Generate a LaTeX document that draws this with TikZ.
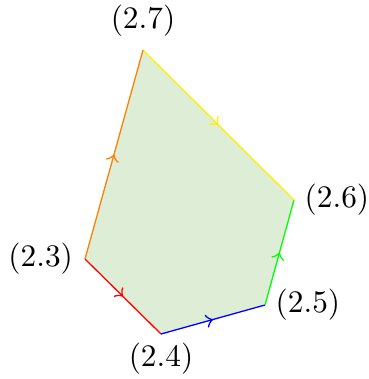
\documentclass[tikz,border=0pt]{standalone}
\usepackage{tikz}
\usetikzlibrary{positioning, decorations.markings}
\definecolor{facefill}{RGB}{221,237,214}

\begin{document}
\begin{tikzpicture}[
  x=0.348pt, y=-0.348pt, line width=0.45pt,
  edge/.style={postaction={decorate}, decoration={markings, mark=at position 0.5 with {\arrow[scale=1.25]{>}}}},
  vlabel/.style={inner sep=3pt, font=\fontsize{10.9}{13}\selectfont}
]
\useasboundingbox (0,0) rectangle (368,379);

% vertices
\coordinate (v3) at (85,259);
\coordinate (v4) at (161,334);
\coordinate (v5) at (265,305);
\coordinate (v6) at (294,200);
\coordinate (v7) at (143,50);

% face
\fill[facefill] (v3) -- (v4) -- (v5) -- (v6) -- (v7) -- cycle;

% edges
\draw[edge, red] (v3) -- (v4);
\draw[edge, blue] (v4) -- (v5);
\draw[edge, green] (v5) -- (v6);
\draw[edge, yellow] (v7) -- (v6);
\draw[edge, orange] (v3) -- (v7);

% labels
\node[vlabel, left=1pt of v3] (l3) {(2.3)};
\node[vlabel, below=0pt of v4] (l4) {(2.4)};
\node[vlabel, right=0.5pt of v5] (l5) {(2.5)};
\node[vlabel, right=0.5pt of v6] (l6) {(2.6)};
\node[vlabel, above=1.5pt of v7] (l7) {(2.7)};
\end{tikzpicture}
\end{document}
